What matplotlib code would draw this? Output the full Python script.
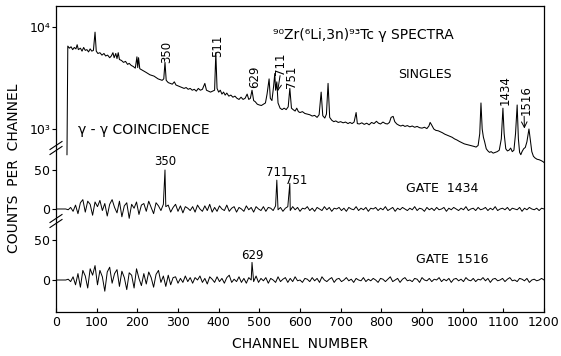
import numpy as np
import matplotlib
matplotlib.use("Agg")
import matplotlib.pyplot as plt
from matplotlib.ticker import NullLocator

# ---- singles spectrum (channel, counts) ----
singles_ch = [
    27, 29, 33, 37, 41, 45, 49, 52, 55, 60, 64, 68, 72, 76, 80, 84, 88, 92, 96, 99,
    103, 108, 113, 118, 122, 127, 132, 136, 140, 143, 147, 150, 153, 156, 161, 166, 171, 176, 180, 185,
    190, 195, 199, 201, 203, 206, 211, 216, 221, 226, 231, 236, 241, 246, 251, 256, 261, 265, 268, 271,
    276, 281, 286, 291, 295, 300, 305, 310, 315, 320, 325, 330, 335, 340, 345, 350, 355, 360, 366, 370,
    375, 380, 385, 390, 393, 396, 400, 404, 408, 412, 416, 420, 425, 430, 435, 440, 445, 450, 455, 460,
    465, 470, 474, 478, 482, 486, 490, 495, 500, 505, 510, 515, 519, 524, 527, 531, 535, 538, 540, 543,
    546, 551, 556, 561, 566, 571, 575, 579, 583, 588, 592, 596, 600, 606, 612, 618, 624, 630, 636, 642,
    647, 652, 656, 661, 665, 669, 673, 678, 683, 688, 694, 700, 706, 712, 718, 723, 728, 733, 738, 741,
    746, 752, 758, 764, 770, 776, 782, 788, 793, 798, 804, 810, 815, 820, 824, 829, 833, 838, 843, 848,
    853, 858, 864, 870, 876, 882, 888, 894, 900, 906, 912, 917, 920, 924, 929, 934, 940, 945, 950, 956,
    962, 968, 974, 980, 986, 992, 998, 1004, 1010, 1016, 1022, 1028, 1033, 1038, 1042, 1045, 1048, 1051, 1054, 1058,
    1062, 1066, 1070, 1075, 1080, 1085, 1090, 1095, 1099, 1102, 1106, 1110, 1114, 1118, 1122, 1126, 1130, 1134, 1137, 1140,
    1143, 1146, 1150, 1154, 1158, 1163, 1166, 1170, 1174, 1178, 1183, 1188, 1193, 1197, 1200,
]
singles_counts = [
    560, 6500, 6200, 6400, 6000, 6300, 6100, 6700, 6000, 6200, 5800, 6300, 5900, 6000, 5700, 6100, 5800, 5900, 8900, 5800,
    5500, 5600, 5300, 5500, 5200, 5300, 5000, 5200, 5600, 5000, 5500, 4900, 5600, 4800, 4700, 4500, 4600, 4300, 4400, 4200,
    4100, 3950, 5100, 4000, 5000, 3900, 3800, 3700, 3600, 3500, 3400, 3350, 3300, 3200, 3100, 3050, 3000, 3100, 4500, 3000,
    2850, 2800, 2750, 2900, 2700, 2650, 2600, 2550, 2500, 2550, 2450, 2500, 2400, 2450, 2350, 2500, 2400, 2450, 2800, 2400,
    2350, 2300, 2350, 2400, 5600, 2500, 2300, 2400, 2200, 2300, 2150, 2250, 2100, 2150, 2050, 2100, 2000, 1950, 2050, 1950,
    2000, 2200, 1950, 2000, 2400, 1900, 1850, 1750, 1720, 1700, 1750, 1800, 2200, 3100, 2000, 1900, 2600, 3500, 2400, 2900,
    1800, 1600, 1550, 1600, 1550, 1650, 2500, 1600, 1550, 1500, 1600, 1480, 1450, 1480, 1420, 1400, 1380, 1340, 1360, 1300,
    1380, 2300, 1350, 1280, 1400, 2800, 1300, 1220, 1180, 1200, 1160, 1180, 1150, 1170, 1130, 1160, 1130, 1170, 1450, 1130,
    1120, 1150, 1110, 1140, 1100, 1160, 1130, 1190, 1140, 1120, 1170, 1130, 1120, 1160, 1300, 1330, 1180, 1120, 1090, 1070,
    1090, 1060, 1080, 1050, 1070, 1040, 1060, 1030, 1020, 1040, 1010, 1070, 1160, 1090, 1000, 970, 960, 940, 920, 890,
    870, 850, 830, 800, 780, 755, 735, 715, 705, 695, 685, 675, 665, 690, 900, 1800, 1000, 830, 750, 640,
    610, 590, 600, 580, 590, 600, 620, 800, 1600, 900, 640, 610, 620, 650, 600, 620, 900, 1720, 800, 590,
    560, 600, 640, 660, 750, 1000, 800, 600, 540, 520, 505, 500, 490, 480, 470,
]

# ---- coincidence spectra, one value every 6 channels ----
gate_step = 6
gate1434_counts = [
    0, 0, 0, 0, 0, -1,
    2, -3, 5, -6, 8, 12, -4, 10, 6, -8,
    9, 3, 11, -2, 7, -9, 6, 12, 2, -5,
    10, -10, 4, 8, -12, 6, 1, 9, -7, 5,
    7, -3, 10, 2, -6, 8, 4, -2, 6, 3,
    5, -4, 2, 6, -3, 4, -5, 3, 1, -2,
    3, -4, 5, 0, -3, 4, -2, 6, -4, 2,
    -3, 4, 0, -2, 5, -3, 1, 3, -4, 2,
    0, -3, 4, -1, 2, -4, 3, 0, -2, 3,
    -3, 2, 1, -2, 4, -1, 2, -3, 1, 3,
    -2, 3, -1, 2, -3, 1, 0, 3, -2, 1,
    -3, 2, 0, -2, 3, -1, 2, -3, 1, 0,
    2, -2, 1, -3, 2, 0, -1, 3, -2, 1,
    -1, 2, -3, 1, 0, 2, -2, 1, -1, 3,
    -2, 0, 2, -3, 1, -1, 2, 0, -2, 1,
    -1, 3, -2, 1, 0, -3, 2, -1, 1, -2,
    2, -1, 0, 2, -3, 1, -1, 2, 0, -2,
    1, -1, 3, -2, 0, 1, -2, 2, -1, 0,
    2, -2, 1, -1, 3, -2, 0, 1, -1, 2,
    -2, 1, 0, -1, 2, -3, 1, -1, 2, 0,
    -1, 1, -2, 1, 0,
]
gate1434_peak_ch = [268, 543, 575]
gate1434_peak_h = [50, 37, 33]

gate1516_counts = [
    0, 0, 0, 0, 0, 1,
    -2, 4, -6, 8, -9, 12, 5, -10, 14, 6,
    18, -6, 12, 4, -14, 10, 16, -4, 8, 13,
    -8, 11, 3, -12, 9, 6, -10, 14, 2, -7,
    8, -5, 10, 3, -9, 7, 12, -3, 5, -8,
    6, -6, 3, 4, -4, 2, -3, 5, -2, 3,
    -4, 3, 0, 5, -3, 2, -5, 4, 1, -3,
    4, -2, 2, -4, 3, 6, -3, 1, -2, 4,
    -3, 2, -4, 3, 0, -2, 5, -3, 2, -1,
    3, -4, 2, 0, -3, 4, -2, 1, 3, -3,
    2, -2, 4, -1, 0, -3, 2, 1, -2, 3,
    -1, 2, -3, 4, 0, -2, 1, 3, -3, 1,
    2, -2, 0, 3, -1, 1, -3, 2, 0, -1,
    3, -2, 1, -1, 2, 0, -3, 2, 1, -2,
    1, 4, -2, 0, 2, -3, 1, 3, -1, 0,
    -2, 2, 1, -3, 3, 0, -1, 2, -2, 1,
    0, 3, -2, 1, -1, 2, -3, 1, 2, -1,
    1, -2, 3, 0, -1, 2, -2, 1, 0, 3,
    -1, 2, -3, 1, 2, -1, 0, 2, -2, 1,
    3, -1, 0, -2, 2, 1, -1, 2, -3, 0,
    1, -1, 0, 2, 0,
]
gate1516_peak_ch = [482]
gate1516_peak_h = [22]

# peak labels: (text, channel, value)
singles_labels = [("350", 273, 5700), ("511", 398, 6500), ("629", 489, 3240),
                  ("711", 553, 4340), ("751", 580, 3240), ("1434", 1104, 2410),
                  ("1516", 1156, 1930)]
gate1434_labels = [("350", 268, 61), ("711", 543, 47), ("751", 590, 37)]
gate1516_labels = [("629", 482, 31)]

x_ticks = list(range(0, 1201, 100))


def merge(counts, peak_ch, peak_h):
    ch = np.concatenate([np.arange(len(counts)) * gate_step, peak_ch])
    val = np.concatenate([counts, peak_h])
    order = np.argsort(ch, kind="stable")
    return ch[order], val[order]


plt.rcParams['font.family'] = ['DejaVu Sans']
fig = plt.figure(figsize=(5.61, 3.56), dpi=100)
rect = [56 / 561, 44 / 356, 488 / 561, 306 / 356]

# --- main frame: singles on a log scale ---
ax = fig.add_axes(rect)
ax.set_yscale('log')
ax.set_xlim(0, 1200)
ax.set_ylim(16.07, 16065)
ax.plot(singles_ch, singles_counts, color='black', lw=0.75)
ax.set_yticks([1e3, 1e4])
ax.set_yticklabels(['10³', '10⁴'])
ax.yaxis.set_minor_locator(NullLocator())
ax.set_xticks(x_ticks)
ax.set_xticklabels([str(t) for t in x_ticks])
ax.tick_params(axis='x', direction='in', length=3, labelsize=9, pad=3)
ax.tick_params(axis='y', direction='out', length=3, labelsize=9, pad=1)
for sp in ax.spines.values():
    sp.set_linewidth(0.9)
ax.set_xlabel("CHANNEL  NUMBER", fontsize=10, labelpad=6)
ax.set_ylabel("COUNTS  PER  CHANNEL", fontsize=10, labelpad=6)
ax.yaxis.set_label_coords(-0.072, 0.47)

for txt, c, v in singles_labels:
    ax.text(c, v, txt, rotation=90, ha='center', va='center', fontsize=8.5)
ax.annotate('', xy=(544, 2200), xytext=(552, 3550),
            arrowprops=dict(arrowstyle='->', lw=0.7, color='black'))
ax.annotate('', xy=(1152, 950), xytext=(1151, 1420),
            arrowprops=dict(arrowstyle='->', lw=0.7, color='black'))

ax.text(0.63, 0.905, "⁹⁰Zr(⁶Li,3n)⁹³Tc γ SPECTRA", transform=ax.transAxes,
        ha='center', va='center', fontsize=10)
ax.text(0.756, 0.775, "SINGLES", transform=ax.transAxes, ha='center', va='center', fontsize=9)
ax.text(0.045, 0.595, "γ - γ COINCIDENCE", transform=ax.transAxes, ha='left', va='center', fontsize=10)

# --- gate 1434 overlay ---
ax2 = fig.add_axes(rect)
ax2.patch.set_visible(False)
ch, val = merge(gate1434_counts, gate1434_peak_ch, gate1434_peak_h)
ax2.plot(ch, val, color='black', lw=0.7)
ax2.set_xlim(0, 1200)
ax2.set_ylim(-132.1, 260.3)
ax2.set_yticks([0, 50])
ax2.set_xticks([])
ax2.tick_params(axis='y', direction='out', length=3, labelsize=9, pad=1)
for sp in ax2.spines.values():
    sp.set_visible(False)
for txt, c, v in gate1434_labels:
    ax2.text(c, v, txt, ha='center', va='center', fontsize=8.5)
ax2.text(0.792, 0.402, "GATE  1434", transform=ax2.transAxes, ha='center', va='center', fontsize=9)

# --- gate 1516 overlay ---
ax3 = fig.add_axes(rect)
ax3.patch.set_visible(False)
ch, val = merge(gate1516_counts, gate1516_peak_ch, gate1516_peak_h)
ax3.plot(ch, val, color='black', lw=0.7)
ax3.set_xlim(0, 1200)
ax3.set_ylim(-40, 342.5)
ax3.set_yticks([0, 50])
ax3.set_xticks([])
ax3.tick_params(axis='y', direction='out', length=3, labelsize=9, pad=1)
for sp in ax3.spines.values():
    sp.set_visible(False)
for txt, c, v in gate1516_labels:
    ax3.text(c, v, txt, ha='center', va='center', fontsize=8.5)
ax3.text(0.811, 0.170, "GATE  1516", transform=ax3.transAxes, ha='center', va='center', fontsize=9)

# axis-break marks on the left spine
w, h = 488.0, 306.0
for yb in [(312 - 148) / h, (312 - 221) / h]:
    for off in (-2.5, 2.5):
        ax.plot([-6 / w, 6 / w], [yb + (off - 4) / h, yb + (off + 4) / h],
                transform=ax.transAxes, color='black', lw=0.8, clip_on=False)

fig.savefig("out.png", dpi=100)
